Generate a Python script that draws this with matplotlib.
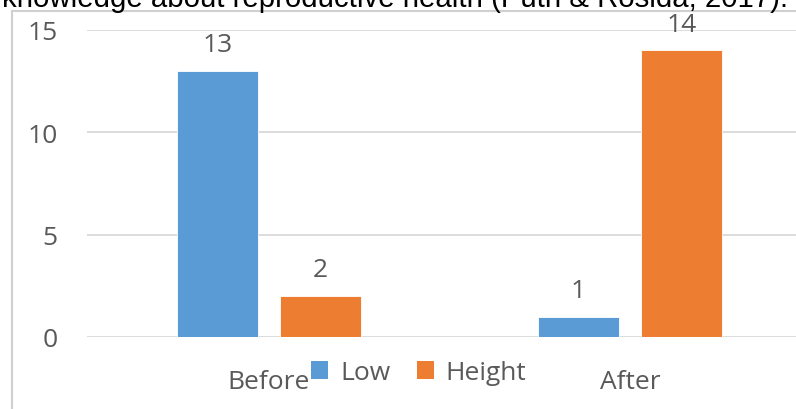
import matplotlib
matplotlib.use("Agg")
import matplotlib.pyplot as plt
from matplotlib.patches import Rectangle, Patch
import numpy as np

categories = ["Before", "After"]
series_names = ["Low", "Height"]
low_values = [13, 1]
height_values = [2, 14]
y_ticks = [0, 5, 10, 15]

BLUE = "#5B9BD5"
ORANGE = "#ED7D31"
GREY_TXT = "#595959"
GRID = "#D9D9D9"
FONT = "Open Sans"

W, H = 796, 410
fig = plt.figure(figsize=(W / 100, H / 100), dpi=100)

# chart border (light grey frame, partially cropped)
fig.patches.append(Rectangle((11.5 / W, -0.1), 2.0, (H - 11.5) / H + 0.1,
                             transform=fig.transFigure, fill=False,
                             edgecolor="#D0D0D0", linewidth=1.5, zorder=0))

# cut-off caption line above the chart
fig.text(2 / W, 1 - 7 / H, "knowledge about reproductive health (Putri & Rosida, 2017).",
         family="Liberation Sans", fontsize=21.2, color="black",
         ha="left", va="baseline")

ax = fig.add_axes([87 / W, 72 / H, 722 / W, 307 / H])
x = np.arange(len(categories))
bw = 0.224
off = 0.143
b1 = ax.bar(x - off, low_values, bw, color=BLUE, label=series_names[0],
            edgecolor="white", linewidth=0.6, zorder=3)
b2 = ax.bar(x + off, height_values, bw, color=ORANGE, label=series_names[1],
            edgecolor="white", linewidth=0.6, zorder=3)

for bars in (b1, b2):
    for r in bars:
        ax.annotate(f"{int(r.get_height())}",
                    (r.get_x() + r.get_width() / 2, r.get_height()),
                    xytext=(0, 10), textcoords="offset points",
                    ha="center", va="bottom", fontsize=19, color=GREY_TXT,
                    family=FONT)

ax.set_xlim(-0.504, 1.496)
ax.set_ylim(0, 15)
ax.set_yticks(y_ticks)
ax.set_xticks(x)
ax.set_xticklabels(categories)
ax.yaxis.grid(True, color=GRID, linewidth=1.3, zorder=0)
ax.set_axisbelow(True)
for s in ax.spines.values():
    s.set_visible(False)
ax.tick_params(axis="both", length=0, labelsize=19, labelcolor=GREY_TXT)
ax.tick_params(axis="y", pad=21)
ax.tick_params(axis="x", pad=23)
for lab in ax.get_xticklabels() + ax.get_yticklabels():
    lab.set_family(FONT)

handles = [Patch(facecolor=BLUE), Patch(facecolor=ORANGE)]
leg = fig.legend(handles, series_names, loc="center left",
                 bbox_to_anchor=(311 / W, 1 - 374 / H), ncol=2, frameon=False,
                 prop={"family": FONT, "size": 19}, labelcolor=GREY_TXT,
                 handlelength=0.65, handleheight=0.65, handletextpad=0.45,
                 columnspacing=1.0, borderpad=0, borderaxespad=0)
leg.set_zorder(10)

fig.savefig("out.png", dpi=100)
